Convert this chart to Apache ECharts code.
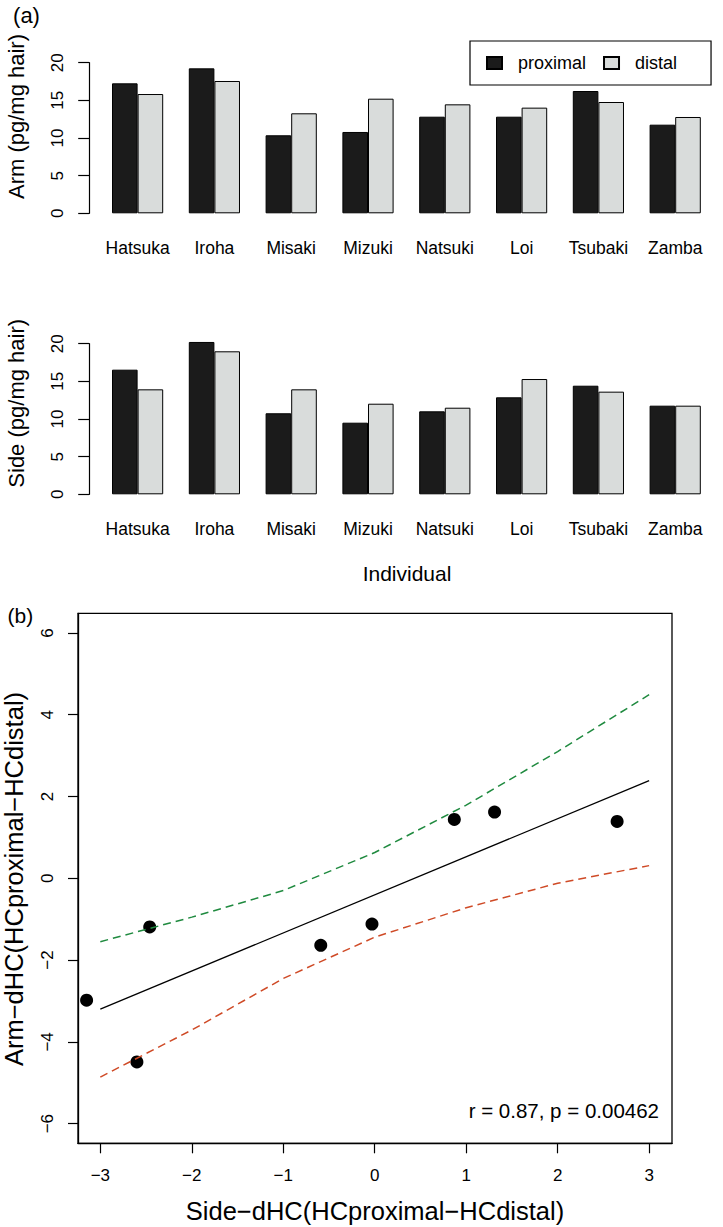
<!DOCTYPE html>
<html><head><meta charset="utf-8">
<script src="https://cdn.jsdelivr.net/npm/echarts@6/dist/echarts.min.js"></script>
<style>html,body{margin:0;padding:0;background:#fff}#c{width:723px;height:1227px}</style>
</head><body><div id="c"></div>
<script>
// ---- data ----
const individuals = ['Hatsuka','Iroha','Misaki','Mizuki','Natsuki','Loi','Tsubaki','Zamba'];
const armProximal = [17.26,19.25,10.36,10.80,12.83,12.83,16.24,11.77];
const armDistal   = [15.84,17.57,13.28,15.22,14.47,14.03,14.78,12.79];
const sideProximal = [16.55,20.23,10.76,9.51,11.02,12.88,14.42,11.77];
const sideDistal   = [13.94,18.99,13.94,12.03,11.50,15.31,13.63,11.77];
const sideDHC = [2.65,1.31,-3.15,-2.60,-0.59,-2.46,0.87,-0.03];
const armDHC  = [1.39,1.62,-2.98,-4.49,-1.64,-1.19,1.44,-1.12];
const bandX = [-3,-2,-1,0,1,2,3];
const bandUpper = [-1.55,-0.95,-0.30,0.63,1.79,3.10,4.49];
const bandLower = [-4.86,-3.71,-2.45,-1.44,-0.72,-0.12,0.31];
const fitX = [-3,3];
const fitY = [-3.20,2.39];
const barMax = 20, barInterval = 5;
const scatterXTicks = [-3,-2,-1,0,1,2,3];
const scatterYTicks = [-6,-4,-2,0,2,4,6];
const statText = 'r = 0.87, p = 0.00462';

const FONT = '"Liberation Sans", Arial, Helvetica, sans-serif';
const INK = '#000';
const minus = v => String(v).replace('-', '\u2212');

const chart = echarts.init(document.getElementById('c'), null, {renderer:'svg', width:723, height:1227});

function barX(gi){
  return {type:'category', gridIndex:gi, data:individuals,
    axisLine:{show:false}, axisTick:{show:false},
    axisLabel:{margin:26, fontSize:17.5, color:INK, fontFamily:FONT, interval:0}};
}
function barY(gi){
  return {type:'value', gridIndex:gi, min:0, max:barMax, interval:barInterval, offset:10,
    axisLine:{show:true, onZero:false, lineStyle:{color:INK, width:1.2}},
    axisTick:{show:true, length:11, lineStyle:{color:INK, width:1.2}},
    axisLabel:{rotate:90, margin:23, fontSize:17, color:INK, fontFamily:FONT},
    splitLine:{show:false}};
}
function barSeries(name, gi, data, color){
  return {type:'bar', name, xAxisIndex:gi, yAxisIndex:gi, data, barWidth:'33.33%', barGap:'0%',
    clip:false, itemStyle:{color, borderColor:INK, borderWidth:1, opacity:1}, emphasis:{disabled:true}};
}
const pt = (xs, ys) => xs.map((x,i)=>[x, ys[i]]);
function txt(text, x, y, size, rot){
  return {type:'text', x, y, rotation: rot||0, silent:true,
    style:{text, fontSize:size, fontFamily:FONT, fill:INK,
      align:'center', verticalAlign:'middle', textAlign:'center', textVerticalAlign:'middle'}};
}

const option = {
  animation:false,
  backgroundColor:'#fff',
  textStyle:{fontFamily:FONT},
  grid:[
    {left:99.2, top:62.7, width:614.4, height:150.6, outerBoundsMode:'none'},
    {left:99.2, top:343.7, width:614.4, height:150.6, outerBoundsMode:'none'},
    {left:78, top:613.3, width:594, height:530, show:true, borderColor:INK, borderWidth:1.3, backgroundColor:'transparent', outerBoundsMode:'none'}
  ],
  xAxis:[
    barX(0), barX(1),
    {type:'value', gridIndex:2, min:-3.244, max:3.25,
      axisLine:{show:true, onZero:false, lineStyle:{color:INK, width:1.3}},
      axisTick:{show:true, length:10, customValues:scatterXTicks, lineStyle:{color:INK, width:1.2}},
      axisLabel:{customValues:scatterXTicks, margin:24, fontSize:17, color:INK, fontFamily:FONT, formatter:minus},
      splitLine:{show:false}}
  ],
  yAxis:[
    barY(0), barY(1),
    {type:'value', gridIndex:2, min:-6.48, max:6.48,
      axisLine:{show:true, onZero:false, lineStyle:{color:INK, width:1.3}},
      axisTick:{show:true, length:10, customValues:scatterYTicks, lineStyle:{color:INK, width:1.2}},
      axisLabel:{customValues:scatterYTicks, rotate:90, margin:22, fontSize:17, color:INK, fontFamily:FONT, formatter:minus},
      splitLine:{show:false}}
  ],
  legend:{data:['proximal','distal'], left:470, top:41, orient:'horizontal',
    padding:[13,34,13,16], itemGap:17, itemWidth:15, itemHeight:12, icon:'rect',
    borderColor:INK, borderWidth:1.2, selectedMode:false,
    textStyle:{fontSize:18, color:INK, fontFamily:FONT, padding:[0,0,0,11]}},
  series:[
    barSeries('proximal', 0, armProximal, '#1b1b1b'),
    barSeries('distal', 0, armDistal, '#d9dcdb'),
    barSeries('proximal', 1, sideProximal, '#1b1b1b'),
    barSeries('distal', 1, sideDistal, '#d9dcdb'),
    {type:'line', name:'upper', xAxisIndex:2, yAxisIndex:2, data:pt(bandX, bandUpper), symbol:'none',
      lineStyle:{color:'#1f8a3f', width:1.5, type:[8,5]}, emphasis:{disabled:true}},
    {type:'line', name:'lower', xAxisIndex:2, yAxisIndex:2, data:pt(bandX, bandLower), symbol:'none',
      lineStyle:{color:'#cf4a26', width:1.5, type:[8,5]}, emphasis:{disabled:true}},
    {type:'line', name:'fit', xAxisIndex:2, yAxisIndex:2, data:pt(fitX, fitY), symbol:'none',
      lineStyle:{color:INK, width:1.3}, emphasis:{disabled:true}},
    {type:'scatter', name:'points', xAxisIndex:2, yAxisIndex:2, data:pt(sideDHC, armDHC),
      symbol:'circle', symbolSize:13, itemStyle:{color:INK, opacity:1}, emphasis:{disabled:true}}
  ],
  graphic:[
    txt('(a)', 26.5, 15, 22),
    txt('(b)', 20.3, 615, 21),
    txt('Arm (pg/mg hair)', 16, 116.5, 22, Math.PI/2),
    txt('Side (pg/mg hair)', 16, 403.3, 22, Math.PI/2),
    txt('Individual', 407, 573, 21),
    txt('Arm\u2212dHC(HCproximal\u2212HCdistal)', 14, 879, 25.5, Math.PI/2),
    txt('Side\u2212dHC(HCproximal\u2212HCdistal)', 375, 1211, 25.5),
    {type:'text', x:659, y:1110.7, silent:true,
      style:{text:statText, fontSize:20.5, fontFamily:FONT, fill:INK,
        align:'right', verticalAlign:'middle', textAlign:'right', textVerticalAlign:'middle'}}
  ]
};
chart.setOption(option);
</script></body></html>
